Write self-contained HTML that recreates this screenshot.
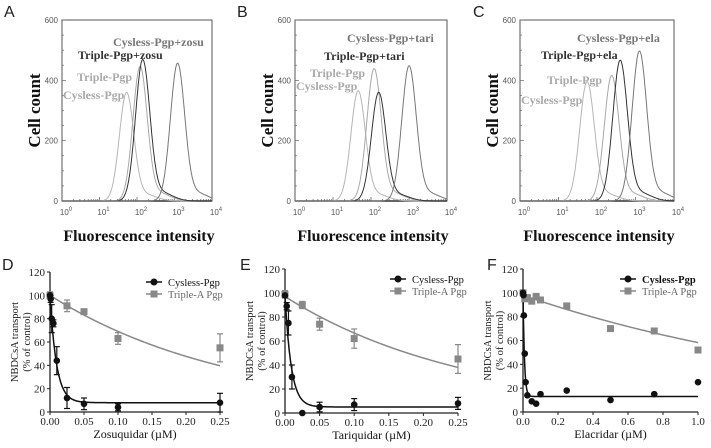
<!DOCTYPE html>
<html><head><meta charset="utf-8">
<style>
html,body{margin:0;padding:0;background:#fff;}
svg{display:block;}
text{font-family:"Liberation Serif",serif;}
.sans{font-family:"Liberation Sans",sans-serif;}
</style></head>
<body>
<svg id="fig" width="711" height="448" viewBox="0 0 711 448" xmlns="http://www.w3.org/2000/svg"></svg>
<script>
// ---------- Histogram data (peak position in log10 decades, peak count) ----------
const histLabels = ["Cysless-Pgp","Triple-Pgp","Triple-Pgp+drug","Cysless-Pgp+drug"];
const histPeaksA = [1.72, 2.08, 2.15, 3.08];
const histHeightsA = [355, 440, 462, 450];
const histPeaksB = [1.66, 2.08, 2.2, 3.0];
const histHeightsB = [360, 432, 355, 442];
const histPeaksC = [1.74, 2.38, 2.6, 3.1];
const histHeightsC = [390, 410, 460, 490];
const histYTicks = [0, 200, 400, 600];
const histXTicks = [0, 1, 2, 3, 4];

// ---------- Dose-response data ----------
const dCysX = [0, 0.001, 0.0025, 0.005, 0.01, 0.025, 0.05, 0.1, 0.25];
const dCysY = [100, 97, 80, 76, 44, 12, 7, 4, 8];
const dCysE = [2, 3, 12, 3, 12, 9, 5, 3, 8];
const dTriX = [0, 0.025, 0.05, 0.1, 0.25];
const dTriY = [100, 91, 86, 63, 55];
const dTriE = [3, 5, 2, 5, 12];

const eCysX = [0, 0.0025, 0.005, 0.01, 0.025, 0.05, 0.1, 0.25];
const eCysY = [98, 89, 75, 30, 0, 5, 7, 8];
const eCysE = [2, 3, 10, 10, 0, 4, 5, 5];
const eTriX = [0, 0.025, 0.05, 0.1, 0.25];
const eTriY = [99, 90, 74, 62, 45];
const eTriE = [3, 3, 5, 8, 12];

const fCysX = [0, 0.0025, 0.005, 0.01, 0.015, 0.025, 0.05, 0.075, 0.1, 0.25, 0.5, 0.75, 1.0];
const fCysY = [100, 98, 81, 49, 25, 14, 9, 7, 15, 18, 10, 15, 25];
const fTriX = [0, 0.01, 0.025, 0.05, 0.075, 0.1, 0.25, 0.5, 0.75, 1.0];
const fTriY = [100, 95, 96, 93, 97, 94, 89, 70, 68, 52];

const ns = "http://www.w3.org/2000/svg";
const svg = document.getElementById('fig');
function el(tag, attrs, parent, txt){
  const e = document.createElementNS(ns, tag);
  for (const k in attrs) e.setAttribute(k, attrs[k]);
  if (txt !== undefined) e.textContent = txt;
  (parent || svg).appendChild(e);
  return e;
}

function histPanel(cfg){
  const g = el('g', {});
  
  
  const L = cfg.x0, R = cfg.x1, T = 20, B = 201;
  const xs = v => L + (R - L) * v / 4;
  const ys = v => B - (B - T) * v / 600;
  const letter = el('text', {x: cfg.lx, y: 17, 'font-size': 16, class: 'sans', fill: '#222'}, g, cfg.letter);
  
  
  const box = el('rect', {x: L, y: T, width: R - L, height: B - T, fill: 'none', stroke: '#555', 'stroke-width': 1}, g);
  
  
  el('line', {x1: L, x2: R, y1: B, y2: B, stroke: '#333', 'stroke-width': 1.6}, g);
  histYTicks.forEach(v => {
    const t = el('text', {x: L - 4, y: ys(v) + 3, 'font-size': 8, class: 'sans', 'text-anchor': 'end', fill: '#555'}, g, v);
    
    
  });
  for (let v = 0; v <= 600; v += 50) el('line', {x1: L, x2: L + (v % 200 === 0 ? 4 : 2), y1: ys(v), y2: ys(v), stroke: '#666', 'stroke-width': 0.7}, g);
  for (let d = 0; d < 4; d++) for (let k = 1; k <= 9; k++) {
    const x = xs(d + Math.log10(k));
    el('line', {x1: x, x2: x, y1: B, y2: B - (k === 1 ? 4 : 2), stroke: '#555', 'stroke-width': 0.7}, g);
  }
  histXTicks.forEach(v => {
    const t = el('text', {x: xs(v) + 4, y: B + 14, 'font-size': 8, class: 'sans', 'text-anchor': 'middle', fill: '#555'}, g);
    
    
    el('tspan', {}, t, '10');
    el('tspan', {dy: -4, 'font-size': 6}, t, v);
  });
  const colors = ['#b5b5b5', '#a8a8a8', '#333', '#777'];
  cfg.peaks.forEach((p, i) => {
    const h = cfg.heights[i];
    let d = '';
    for (let s = 0; s <= 400; s++) {
      const lv = s / 100;
      const z = (lv - p) / 0.19;
      let c = h * Math.exp(-z * z / 2);
      const z2 = (lv - p - 0.5) / 0.3;
      c += h * 0.06 * Math.exp(-z2 * z2 / 2);
      d += (s ? 'L' : 'M') + xs(lv).toFixed(1) + ',' + ys(c).toFixed(1);
    }
    const path = el('path', {d: d, fill: 'none', stroke: colors[i], 'stroke-width': 1}, g);
    
    
  });
  cfg.labels.forEach(lb => {
    const t = el('text', {x: lb[1], y: lb[2], 'font-size': 12, 'font-weight': 'bold', fill: lb[3]}, g, lb[0]);
    
    
  });
  const yt = el('text', {x: 0, y: 0, 'font-size': 17, 'font-weight': 'bold', 'text-anchor': 'middle', fill: '#111', transform: `translate(${L - 22},${(T + B) / 2}) rotate(-90)`}, g, 'Cell count');
  
  
  const xt = el('text', {x: (L + R) / 2 + 2, y: 241, 'font-size': 16, 'font-weight': 'bold', 'text-anchor': 'middle', fill: '#111'}, g, 'Fluorescence intensity');
  
  
}

histPanel({name: 'panel-a', letter: 'A', lx: 4, x0: 62, x1: 212, peaks: histPeaksA, heights: histHeightsA,
  labels: [['Cysless-Pgp+zosu', 113, 46, '#777'], ['Triple-Pgp+zosu', 78, 59, '#333'], ['Triple-Pgp', 77, 81, '#aaa'], ['Cysless-Pgp', 63, 99, '#aaa']]});
histPanel({name: 'panel-b', letter: 'B', lx: 237, x0: 295, x1: 447, peaks: histPeaksB, heights: histHeightsB,
  labels: [['Cysless-Pgp+tari', 347, 42, '#777'], ['Triple-Pgp+tari', 324, 60, '#333'], ['Triple-Pgp', 310, 77, '#aaa'], ['Cysless-Pgp', 296, 90, '#aaa']]});
histPanel({name: 'panel-c', letter: 'C', lx: 473, x0: 520, x1: 674, peaks: histPeaksC, heights: histHeightsC,
  labels: [['Cysless-Pgp+ela', 577, 42, '#777'], ['Triple-Pgp+ela', 541, 59, '#333'], ['Triple-Pgp', 547, 84, '#aaa'], ['Cysless-Pgp', 521, 104, '#aaa']]});

function dosePanel(cfg){
  const g = el('g', {});
  
  
  const L = cfg.x0, R = cfg.x1, T = cfg.top, B = cfg.bot;
  const xs = v => L + (R - L) * v / cfg.xmax;
  const ys = v => B - (B - T) * v / 120;
  const letter = el('text', {x: cfg.lx, y: 270, 'font-size': 16, class: 'sans', fill: '#222'}, g, cfg.letter);
  
  
  el('line', {x1: L, x2: L, y1: T, y2: B, stroke: '#222', 'stroke-width': 1.3}, g);
  el('line', {x1: L, x2: R, y1: B, y2: B, stroke: '#222', 'stroke-width': 1.3}, g);
  for (let v = 0; v <= 120; v += 20) {
    el('line', {x1: L - 3, x2: L, y1: ys(v), y2: ys(v), stroke: '#222'}, g);
    const t = el('text', {x: L - 5, y: ys(v) + 4, 'font-size': 11, 'text-anchor': 'end', fill: '#222'}, g, v);
    
    
  }
  cfg.xticks.forEach(v => {
    el('line', {x1: xs(v), x2: xs(v), y1: B, y2: B + 3, stroke: '#222'}, g);
    const t = el('text', {x: xs(v), y: B + 13, 'font-size': 11, 'text-anchor': 'middle', fill: '#222'}, g, v.toFixed(cfg.dec));
    
    
  });
  const yt = el('text', {'font-size': 10.5, 'text-anchor': 'middle', fill: '#222', transform: `translate(${L - 32},${(T + B) / 2}) rotate(-90)`}, g);
  
  
  el('tspan', {x: 0, y: 0}, yt, 'NBDCsA transport');
  el('tspan', {x: 0, y: 12}, yt, '(% of control)');
  const xt = el('text', {x: (L + R) / 2, y: B + 26, 'font-size': 12, 'text-anchor': 'middle', fill: '#111'}, g, cfg.xtitle);
  
  
  const fit = (f, col, nm) => {
    let d = '';
    for (let s = 0; s <= 400; s++) {
      const x = cfg.xmax * s / 400;
      d += (s ? 'L' : 'M') + xs(x).toFixed(1) + ',' + ys(Math.min(f(x), 118)).toFixed(1);
    }
    const p = el('path', {d: d, fill: 'none', stroke: col, 'stroke-width': 1.5}, g);
    
    
  };
  fit(cfg.triFit, '#888', 'triple-fit-curve');
  fit(cfg.cysFit, '#111', 'cysless-fit-curve');
  const err = (X, Y, E, col) => {
    if (!E) return;
    X.forEach((x, i) => {
      if (!E[i]) return;
      const cx = xs(x);
      el('line', {x1: cx, x2: cx, y1: ys(Y[i] + E[i]), y2: ys(Y[i] - E[i]), stroke: col, 'stroke-width': 1.2}, g);
      el('line', {x1: cx - 3, x2: cx + 3, y1: ys(Y[i] + E[i]), y2: ys(Y[i] + E[i]), stroke: col, 'stroke-width': 1.2}, g);
      el('line', {x1: cx - 3, x2: cx + 3, y1: ys(Y[i] - E[i]), y2: ys(Y[i] - E[i]), stroke: col, 'stroke-width': 1.2}, g);
    });
  };
  err(cfg.triX, cfg.triY, cfg.triE, '#888');
  err(cfg.cysX, cfg.cysY, cfg.cysE, '#111');
  cfg.triX.forEach((x, i) => {
    const r = el('rect', {x: xs(x) - 3.5, y: ys(cfg.triY[i]) - 3.5, width: 7, height: 7, fill: '#888'}, g);
    
    
  });
  cfg.cysX.forEach((x, i) => {
    const c = el('circle', {cx: xs(x), cy: ys(cfg.cysY[i]), r: 3.3, fill: '#111'}, g);
    
    
  });
  const lx = cfg.legX, ly = T + 10;
  const lg = el('g', {}, g);
  
  
  el('line', {x1: lx, x2: lx + 16, y1: ly, y2: ly, stroke: '#111', 'stroke-width': 1.5}, lg);
  el('circle', {cx: lx + 8, cy: ly, r: 3.5, fill: '#111'}, lg);
  const t1 = el('text', {x: lx + 22, y: ly + 4, 'font-size': 10.5, fill: '#111', 'font-weight': cfg.boldLeg ? 'bold' : 'normal'}, lg, 'Cysless-Pgp');
  
  
  el('line', {x1: lx, x2: lx + 16, y1: ly + 12, y2: ly + 12, stroke: '#888', 'stroke-width': 1.5}, lg);
  el('rect', {x: lx + 4.5, y: ly + 8.5, width: 7, height: 7, fill: '#888'}, lg);
  const t2 = el('text', {x: lx + 22, y: ly + 16, 'font-size': 10.5, fill: '#666'}, lg, 'Triple-A Pgp');
  
  
}

dosePanel({name: 'panel-d', letter: 'D', lx: 2, x0: 50, x1: 220, top: 272, bot: 412, xmax: 0.25, dec: 2,
  xticks: [0, 0.05, 0.1, 0.15, 0.2, 0.25], xtitle: 'Zosuquidar (\u00b5M)', legX: 146,
  cysX: dCysX, cysY: dCysY, cysE: dCysE, triX: dTriX, triY: dTriY, triE: dTriE,
  cysFit: x => 8 + 92 * Math.exp(-x / 0.0095), triFit: x => 100 * Math.exp(-3.7 * x)});
dosePanel({name: 'panel-e', letter: 'E', lx: 240, x0: 285, x1: 458, top: 269, bot: 413, xmax: 0.25, dec: 2,
  xticks: [0, 0.05, 0.1, 0.15, 0.2, 0.25], xtitle: 'Tariquidar (\u00b5M)', legX: 390,
  cysX: eCysX, cysY: eCysY, cysE: eCysE, triX: eTriX, triY: eTriY, triE: eTriE,
  cysFit: x => 5 + 93 * Math.exp(-x / 0.009), triFit: x => 97 * Math.exp(-3.75 * x)});
dosePanel({name: 'panel-f', letter: 'F', lx: 487, x0: 523, x1: 698, top: 269, bot: 412, xmax: 1.0, dec: 1,
  xticks: [0, 0.2, 0.4, 0.6, 0.8, 1.0], xtitle: 'Elacridar (\u00b5M)', legX: 620, boldLeg: true,
  cysX: fCysX, cysY: fCysY, cysE: null, triX: fTriX, triY: fTriY, triE: null,
  cysFit: x => 13 + 90 * Math.exp(-x / 0.008), triFit: x => 98 * Math.exp(-0.52 * x)});
</script>
</body></html>
